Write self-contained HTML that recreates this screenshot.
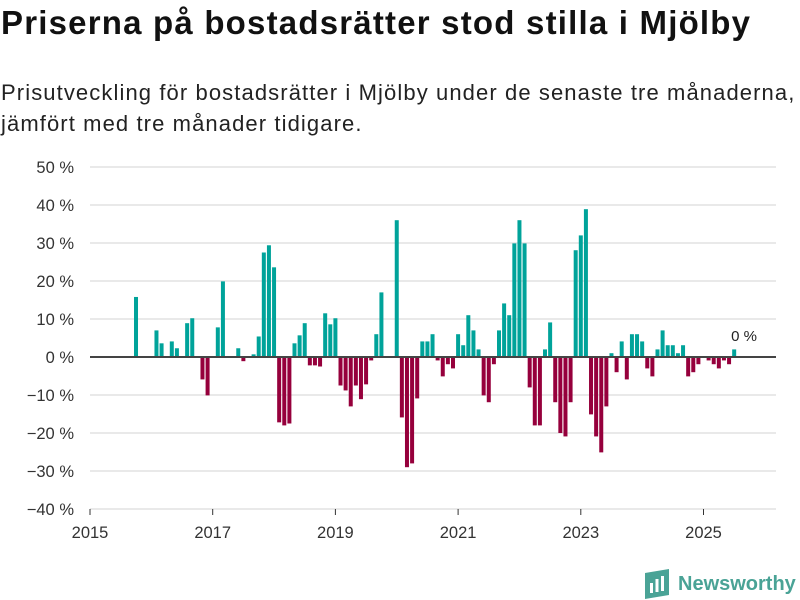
<!DOCTYPE html>
<html><head><meta charset="utf-8"><style>
body{margin:0;width:800px;height:600px;background:#fff;font-family:"Liberation Sans","DejaVu Sans",sans-serif;overflow:hidden;position:relative}
h1{position:absolute;left:1px;top:4px;margin:0;font-size:33px;font-weight:bold;color:#111;letter-spacing:1.2px;white-space:nowrap}
p{position:absolute;left:1px;top:77px;margin:0;font-size:22px;line-height:31px;color:#222;letter-spacing:1.1px;white-space:nowrap}
svg{position:absolute;left:0;top:0}
</style></head><body>
<h1>Priserna på bostadsrätter stod stilla i Mjölby</h1>
<p>Prisutveckling för bostadsrätter i Mjölby under de senaste tre månaderna,<br>jämfört med tre månader tidigare.</p>
<svg id="c" width="800" height="600"></svg>
<script>
const values=[15.8,null,null,null,7.0,3.6,null,4.1,2.3,null,8.9,10.2,null,-5.9,-10.1,null,7.8,19.9,null,null,2.3,-1.1,null,0.7,5.4,27.5,29.4,23.6,-17.2,-18,-17.5,3.6,5.7,8.9,-2.2,-2.2,-2.5,11.5,8.6,10.2,-7.5,-8.8,-13,-7.5,-11.1,-7.2,-0.9,6.0,17.0,null,null,36,-15.9,-29,-28,-10.9,4.1,4.1,6,-0.9,-5.1,-1.9,-3,6,3.1,11,7,2,-10.1,-11.9,-1.9,7,14.1,11,29.9,36,29.9,-8,-18,-18,2,9.1,-11.9,-20,-20.9,-11.9,28.1,32,38.9,-15.1,-20.9,-25.1,-13,1,-4,4.1,-5.9,6,6,4.1,-3,-5.1,2,7,3.1,3.1,1,3.1,-5.1,-4,-1.9,null,-0.9,-1.9,-3,-0.9,-1.9,2];
const startYear=2015, startMonth=9; // October 2015 (0-based month)
const yTicks=[50,40,30,20,10,0,-10,-20,-30,-40];
const xTicks=[2015,2017,2019,2021,2023,2025];
const NS="http://www.w3.org/2000/svg",svg=document.getElementById('c');
const x=t=>90+(t-2015)*61.35, y=v=>357-v*3.8;
function mk(tag,a){const e=document.createElementNS(NS,tag);for(const k in a)e.setAttribute(k,a[k]);svg.appendChild(e);return e;}
yTicks.forEach(v=>{
 const g=mk('line',{x1:90,x2:776,y1:y(v),y2:y(v),stroke:'#e2e2e2','stroke-width':1.5});
 
 
 const t=mk('text',{x:74,y:y(v)+6,'text-anchor':'end','font-size':16.5,fill:'#333'});
 t.textContent=(v<0?'−'+(-v):v)+' %';
 
 
});
xTicks.forEach(v=>{
 const l=mk('line',{x1:x(v),x2:x(v),y1:509,y2:515,stroke:'#333','stroke-width':1});
 
 
 const t=mk('text',{x:x(v),y:538,'text-anchor':'middle','font-size':16.5,fill:'#333'});
 t.textContent=v;
 
 
});
values.forEach((v,i)=>{
 if(v===null)return;
 const cx=x(startYear+(startMonth+i)/12);
 const r=mk('rect',{x:cx-2,width:4,y:Math.min(y(v),y(0)),height:Math.abs(y(v)-y(0)),fill:v>=0?'#00a39a':'#96003c'});
 
 
});
const z=mk('line',{x1:90,x2:776,y1:y(0),y2:y(0),stroke:'#444','stroke-width':2});


const lb=mk('text',{x:744,y:341,'text-anchor':'middle','font-size':15,fill:'#222'});
lb.textContent='0 %';


</script>
<div style="position:absolute;left:645px;top:569px;display:flex;align-items:center">
<svg width="24" height="30" style="position:static" viewBox="0 0 24 30"><path d="M0 4 L24 0 L24 26 L0 30Z" fill="#4aa396"/><rect x="5" y="14" width="3" height="10" fill="#fff"/><rect x="10.5" y="10" width="3" height="13" fill="#fff"/><rect x="16" y="7" width="3" height="15" fill="#fff"/></svg>
<span style="font-size:20px;font-weight:bold;color:#4aa396;margin-left:9px">Newsworthy</span></div>
</body></html>
